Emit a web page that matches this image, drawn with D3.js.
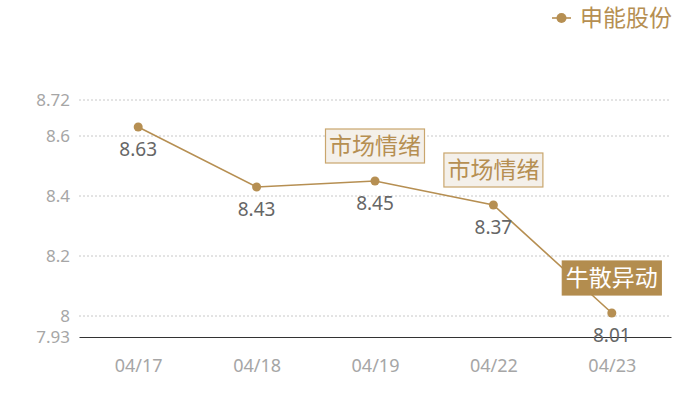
<!DOCTYPE html>
<html>
<head>
<meta charset="utf-8">
<script src="https://cdn.jsdelivr.net/npm/d3@7"></script>
<style>
  body { margin: 0; background: #fff; }
  text { font-family: "Noto Sans CJK SC", "Noto Sans", sans-serif; }
  .num { font-family: "Noto Sans", "Open Sans", sans-serif; }
</style>
</head>
<body>
<div id="chart"></div>
<script>
// data
var dates = ["04/17", "04/18", "04/19", "04/22", "04/23"];
var prices = [8.63, 8.43, 8.45, 8.37, 8.01];
var yTicks = [7.93, 8, 8.2, 8.4, 8.6, 8.72];
var notes = [
  { date: "04/19", text: "市场情绪", kind: "light" },
  { date: "04/22", text: "市场情绪", kind: "light" },
  { date: "04/23", text: "牛散异动", kind: "dark" }
];
var seriesName = "申能股份";

var svgWidth = 700;
var svgHeight = 400;
var margin = { top: 100, right: 29, bottom: 63, left: 79 };
var width = svgWidth - margin.left - margin.right;
var height = svgHeight - margin.top - margin.bottom;

var gold = "#b68f52";

var svg = d3.select("#chart")
  .append("svg")
  .attr("width", svgWidth)
  .attr("height", svgHeight);

var chartGroup = svg.append("g")
  .attr("transform", `translate(${margin.left}, ${margin.top})`);

// scales
var xScale = d3.scalePoint()
  .domain(dates)
  .range([0, width])
  .padding(0.5);

var yScale = d3.scaleLinear()
  .domain([7.93, 8.72])
  .range([height, 0]);

// grid lines
chartGroup.selectAll(".grid")
  .data(yTicks.filter(d => d !== 7.93))
  .enter()
  .append("line")
  .attr("x1", 0)
  .attr("x2", width)
  .attr("y1", d => yScale(d))
  .attr("y2", d => yScale(d))
  .attr("stroke", "#c8c8c8")
  .attr("stroke-dasharray", "2,2");

// y axis
var leftAxis = d3.axisLeft(yScale)
  .tickValues(yTicks)
  .tickSize(0)
  .tickPadding(9)
  .tickFormat(d => String(d));

var yAxisG = chartGroup.append("g").call(leftAxis);
yAxisG.select(".domain").remove();
yAxisG.selectAll("text")
  .attr("class", "num")
  .attr("fill", "#a6a6a6")
  .attr("font-size", "17px");

// x axis
var bottomAxis = d3.axisBottom(xScale)
  .tickSize(0)
  .tickPadding(22);

var xAxisG = chartGroup.append("g")
  .attr("transform", `translate(0, ${height})`)
  .call(bottomAxis);
xAxisG.select(".domain").attr("stroke", "#333").attr("stroke-width", 1.2);
xAxisG.selectAll("text")
  .attr("class", "num")
  .attr("fill", "#a6a6a6")
  .attr("font-size", "18px");

// line
var line = d3.line()
  .x((d, i) => xScale(dates[i]))
  .y(d => yScale(d));

chartGroup.append("path")
  .datum(prices)
  .attr("d", line)
  .attr("fill", "none")
  .attr("stroke", gold)
  .attr("stroke-width", 1.6);

// points
chartGroup.selectAll(".dot")
  .data(prices)
  .enter()
  .append("circle")
  .attr("cx", (d, i) => xScale(dates[i]))
  .attr("cy", d => yScale(d))
  .attr("r", 4.5)
  .attr("fill", gold);

// value labels under points
chartGroup.selectAll(".valText")
  .data(prices)
  .enter()
  .append("text")
  .attr("class", "num")
  .attr("x", (d, i) => xScale(dates[i]))
  .attr("y", d => yScale(d) + 29)
  .attr("text-anchor", "middle")
  .attr("fill", "#666")
  .attr("font-size", "19px")
  .text(d => d.toFixed(2));

// annotation boxes
var noteG = chartGroup.selectAll(".note")
  .data(notes)
  .enter()
  .append("g")
  .attr("transform", function(d) {
    var i = dates.indexOf(d.date);
    return `translate(${xScale(d.date)}, ${yScale(prices[i]) - 18})`;
  });

noteG.append("rect")
  .attr("x", -49.5)
  .attr("y", -34)
  .attr("width", 99)
  .attr("height", 34)
  .attr("fill", d => d.kind === "dark" ? "#b38d4f" : "#f4f0ea")
  .attr("stroke", d => d.kind === "dark" ? "#b38d4f" : "#c9a66d")
  .attr("stroke-width", 1.2);

noteG.append("text")
  .attr("x", 0)
  .attr("y", -9)
  .attr("text-anchor", "middle")
  .attr("font-size", "23px")
  .attr("fill", d => d.kind === "dark" ? "#fff" : "#b68f52")
  .text(d => d.text);

// legend
var legend = svg.append("g")
  .attr("transform", "translate(552, 18)");

legend.append("line")
  .attr("x1", 0)
  .attr("x2", 19)
  .attr("stroke", gold)
  .attr("stroke-width", 1.6);

legend.append("circle")
  .attr("cx", 9.5)
  .attr("r", 5)
  .attr("fill", gold);

legend.append("text")
  .attr("x", 28)
  .attr("y", 8)
  .attr("font-size", "23px")
  .attr("fill", gold)
  .text(seriesName);
</script>
</body>
</html>
